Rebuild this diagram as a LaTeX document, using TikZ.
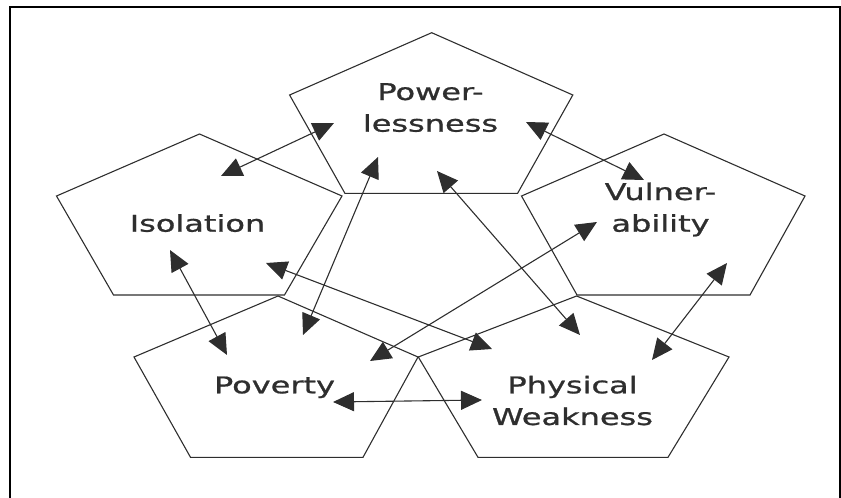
\documentclass[tikz,border=0pt]{standalone}
\usepackage{graphicx}
\usepackage{fontspec}
\setmainfont{DejaVu Sans}[FakeBold=0.8]
\usetikzlibrary{arrows.meta}
\definecolor{ink}{HTML}{2E2E2E}
\newcommand{\lbl}[1]{\scalebox{1}[0.72]{\fontsize{32}{44}\selectfont\begin{tabular}[t]{@{}c@{}}#1\end{tabular}}}
\tikzset{
  pent/.style={draw=ink, line width=1.1pt, line join=miter},
  link/.style={draw=ink, line width=1.1pt, {Triangle[length=21pt,width=19pt]}-{Triangle[length=21pt,width=19pt]}},
  lab/.style={text=ink, inner sep=0pt, anchor=base},
  frame/.style={draw=black, line width=2pt}
}
\begin{document}
\begin{tikzpicture}[x=1pt, y=-1pt]
\useasboundingbox (0,0) rectangle (841,498);
% frame
\draw[frame] (10,498) -- (10,7) -- (840,7) -- (840,498);
% pentagons
\draw[pent] (431.7,32.7) -- (572.8,95) -- (517.6,193.3) -- (344.9,193.3) -- (289.6,95) -- cycle;
\draw[pent] (199.5,134) -- (342,196) -- (284.5,295) -- (113.5,295) -- (56.5,196) -- cycle;
\draw[pent] (664,134) -- (805,196) -- (750,295) -- (577,295) -- (521.5,196) -- cycle;
\draw[pent] (278,296) -- (418,357) -- (363,457.3) -- (190.5,457.3) -- (134,357) -- cycle;
\draw[pent] (576.6,296) -- (729,357) -- (668,457.3) -- (478,457.3) -- (418.3,357) -- cycle;
% labels
\node[lab] (pow) at (430.5,100) {\lbl{Power-\\lessness}};
\node[lab] (iso) at (197.5,231.7) {\lbl{Isolation}};
\node[lab] (vul) at (660.5,200) {\lbl{Vulner-\\ability}};
\node[lab] (pov) at (274.5,393.3) {\lbl{Poverty}};
\node[lab] (phy) at (572.5,393.3) {\lbl{Physical\\Weakness}};
% arrow end points
\coordinate (pi1) at (334,123);  \coordinate (pi2) at (221,176);
\coordinate (pv1) at (526,122);  \coordinate (pv2) at (644,180);
\coordinate (pp1) at (378,157);  \coordinate (pp2) at (303,335);
\coordinate (pw1) at (437,171);  \coordinate (pw2) at (580,335);
\coordinate (ip1) at (170,250);  \coordinate (ip2) at (227,355);
\coordinate (iw1) at (266,263);  \coordinate (iw2) at (492,349);
\coordinate (vp1) at (597,222);  \coordinate (vp2) at (370,361);
\coordinate (vw1) at (727,263);  \coordinate (vw2) at (652,360);
\coordinate (ow1) at (333,402);  \coordinate (ow2) at (482,400);
% arrows
\draw[link] (pi1) -- (pi2);
\draw[link] (pv1) -- (pv2);
\draw[link] (pp1) -- (pp2);
\draw[link] (pw1) -- (pw2);
\draw[link] (ip1) -- (ip2);
\draw[link] (iw1) -- (iw2);
\draw[link] (vp1) -- (vp2);
\draw[link] (vw1) -- (vw2);
\draw[link] (ow1) -- (ow2);
\end{tikzpicture}
\end{document}
